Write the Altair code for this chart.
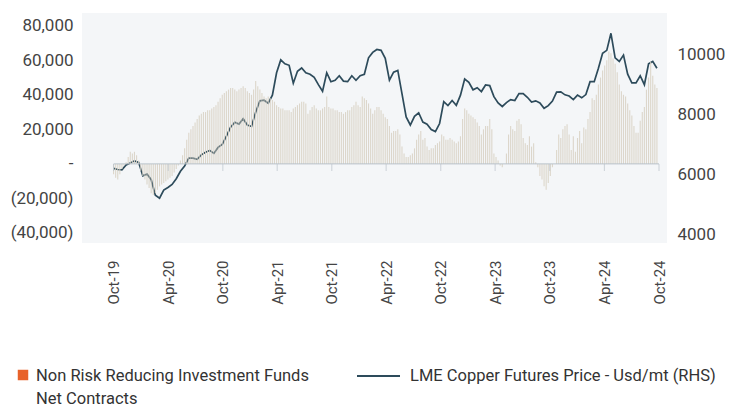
import altair as alt
import pandas as pd

# ---------------- data ----------------
start_date = "2019-10-01"

# Non Risk Reducing Investment Funds net contracts, weekly, in thousands
net_contracts_k = [
    -6, -8, -9, -6, -3, -1, 1, 4, 7, 6,
    7, 5, 2, -4, -7, -9, -12, -14, -17, -18,
    -17, -15, -13, -12, -11, -10, -9, -8, -7, -5,
    -3, -1, 2, 5, 9, 14, 18, 20, 22, 24,
    26, 28, 29, 30, 30, 31, 31, 32, 33, 34,
    36, 38, 40, 41, 42, 43, 44, 44, 43, 42,
    43, 44, 45, 44, 42, 41, 40, 43, 48, 45,
    43, 41, 39, 38, 39, 38, 37, 36, 34, 33,
    32, 32, 31, 31, 31, 30, 32, 33, 34, 35,
    36, 36, 35, 29, 31, 33, 34, 32, 31, 31,
    32, 33, 39, 33, 32, 32, 31, 31, 30, 30,
    29, 30, 31, 31, 33, 34, 36, 34, 33, 39,
    38, 37, 35, 32, 29, 31, 33, 33, 31, 29,
    27, 26, 22, 18, 19, 19, 20, 17, 10, 6,
    4, 4, 5, 6, 9, 14, 17, 19, 14, 15,
    10, 8, 9, 9, 11, 12, 13, 17, 16, 14,
    14, 15, 14, 13, 12, 13, 16, 26, 32, 31,
    29, 28, 27, 26, 24, 22, 17, 20, 22, 22,
    26, 20, 6, 4, 2, -1, -2, 0, 6, 17,
    22, 20, 19, 25, 26, 23, 15, 12, 11, 16,
    10, 12, 1, -2, -7, -9, -13, -15, -11, -7,
    -2, 0, 8, 17, 15, 20, 22, 23, 17, 8,
    16, 7, 15, 19, 12, 21, 20, 26, 30, 38,
    37, 40, 46, 50, 54, 57, 60, 65, 64, 61,
    58, 53, 46, 42, 40, 39, 35, 31, 28, 22,
    18, 18, 25, 30, 33, 43, 50, 59, 51, 46,
    44,
]

# LME copper futures price (USD/mt), every two weeks
copper_price = [
    6200, 6160, 6150, 6310, 6380, 6450, 6400, 5950, 6010, 5820,
    5300, 5200, 5470, 5560, 5660, 5850, 6100, 6280, 6540, 6540,
    6500, 6650, 6740, 6800, 6700, 6900, 7000, 7280, 7580, 7740,
    7680, 7860, 7650, 7600, 8080, 8460, 8480, 8380, 8650, 9400,
    9830, 9700, 9650, 9050, 9450, 9560, 9400, 9350, 9250, 9000,
    8780, 9400, 9100, 9150, 9300, 9120, 9100, 9300, 9150, 9300,
    9350, 9900, 10080, 10180, 10150, 9880, 9150, 9420, 9480, 8700,
    7920, 7650, 7940, 8060, 7750, 7680, 7500, 7430, 7700, 8430,
    8300, 8470, 8310, 8650, 9190, 9080, 8830, 8900, 8770, 8990,
    8970, 8600, 8390, 8270, 8400, 8500, 8470, 8700, 8700, 8580,
    8420, 8460, 8390, 8210, 8300, 8450, 8750, 8760, 8660, 8620,
    8500, 8650, 8560, 8670, 9100, 9100, 9550, 10050, 10150, 10720,
    9900, 9780, 9990, 9350, 9060, 9060, 9300, 9000, 9700, 9780,
    9550,
]

tick_dates = ["2019-10-01", "2020-04-01", "2020-10-01", "2021-04-01",
              "2021-10-01", "2022-04-01", "2022-10-01", "2023-04-01",
              "2023-10-01", "2024-04-01", "2024-10-01"]
left_ticks = [-40000, -20000, 0, 20000, 40000, 60000, 80000]
right_ticks = [4000, 6000, 8000, 10000]
legend_bar_lines = ["Non Risk Reducing Investment Funds", "Net Contracts"]
legend_line_label = "LME Copper Futures Price - Usd/mt (RHS)"

# ---------------- tables ----------------
bar_dates = pd.date_range(start_date, periods=len(net_contracts_k), freq="7D")
bars_df = pd.DataFrame({"date": bar_dates.strftime("%Y-%m-%d"),
                        "net": [v * 1000 for v in net_contracts_k]})
line_dates = pd.date_range(start_date, periods=len(copper_price), freq="14D")
line_df = pd.DataFrame({"date": line_dates.strftime("%Y-%m-%d"),
                        "price": copper_price})
ticks_df = pd.DataFrame({"date": tick_dates, "zero": [0] * len(tick_dates)})
zero_df = pd.DataFrame({"date": [tick_dates[0]], "date2": [tick_dates[-1]], "zero": [0]})
one = pd.DataFrame({"k": [0]})

FONT = "Roboto"
ORANGE = "#e8622a"
LINE = "#2d4b5b"
BAR = "#d9d3c5"
AXISC = "#b9c2ca"
TXT = "#444444"

x_scale = alt.Scale(type="utc",
                    domain=[alt.DateTime(year=2019, month=7, date=4, utc=True),
                            alt.DateTime(year=2024, month=10, date=11, utc=True)])
x_axis = alt.Axis(values=[alt.DateTime(year=int(d[:4]), month=int(d[5:7]), date=1, utc=True)
                          for d in tick_dates],
                  labelExpr="utcFormat(datum.value, '%b-%y')", labelAngle=-90,
                  labelOverlap=False, labelPadding=17, domain=False, ticks=False,
                  grid=False, labelFontSize=15, labelFont=FONT, labelColor=TXT,
                  title=None)
left_scale = alt.Scale(domain=[-45800, 87350], nice=False, zero=False)
right_scale = alt.Scale(domain=[3700, 11400], nice=False, zero=False)

left_axis = alt.Axis(values=left_ticks, orient="left", domain=False, ticks=False,
                     grid=False, labelFontSize=17, labelFont=FONT, labelOverlap=False,
                     labelColor=TXT, labelPadding=9, title=None,
                     labelExpr="datum.value == 0 ? '-' : (datum.value < 0 ? '(' + format(-datum.value, ',') + ')' : format(datum.value, ','))")
right_axis = alt.Axis(values=right_ticks, orient="right", domain=False, ticks=False,
                      grid=False, labelFontSize=17, labelFont=FONT, format="d",
                      labelOverlap=False, labelColor=TXT, labelPadding=10, title=None)

line = alt.Chart(line_df).mark_line(color=LINE, strokeWidth=1.7).encode(
    x=alt.X("date:T", scale=x_scale, axis=x_axis),
    y=alt.Y("price:Q", scale=right_scale, axis=right_axis),
)

bars = alt.Chart(bars_df).mark_bar(size=1.1, color=BAR, opacity=0.9).encode(
    x=alt.X("date:T", scale=x_scale, axis=x_axis),
    y=alt.Y("net:Q", scale=left_scale, axis=left_axis),
)
zero_rule = alt.Chart(zero_df).mark_rule(color=AXISC, strokeWidth=1).encode(
    x=alt.X("date:T", scale=x_scale, axis=x_axis), x2="date2:T",
    y=alt.Y("zero:Q", scale=left_scale, axis=left_axis),
)
small_ticks = alt.Chart(ticks_df).mark_tick(color=AXISC, orient="vertical",
                                            size=7, thickness=1, yOffset=3.5).encode(
    x=alt.X("date:T", scale=x_scale, axis=x_axis),
    y=alt.Y("zero:Q", scale=left_scale, axis=left_axis),
)
left_layer = alt.layer(bars, zero_rule, small_ticks)

# legend (drawn below the plot)
leg_sq = alt.Chart(one).mark_square(size=110, color=ORANGE, opacity=1).encode(
    x=alt.value(-59), y=alt.value(362))
leg_t1 = alt.Chart(one).mark_text(align="left", baseline="middle", font=FONT,
                                   fontSize=16.5, color="#333333").encode(
    x=alt.value(-46), y=alt.value(363), text=alt.value(legend_bar_lines[0]))
leg_t2 = alt.Chart(one).mark_text(align="left", baseline="middle", font=FONT,
                                   fontSize=16.5, color="#333333").encode(
    x=alt.value(-46), y=alt.value(386), text=alt.value(legend_bar_lines[1]))
leg_rule = alt.Chart(one).mark_rule(color=LINE, strokeWidth=2).encode(
    x=alt.value(275), x2=alt.value(318), y=alt.value(363))
leg_t3 = alt.Chart(one).mark_text(align="left", baseline="middle", font=FONT,
                                   fontSize=16.5, color="#333333").encode(
    x=alt.value(328), y=alt.value(363), text=alt.value(legend_line_label))

chart = alt.layer(
    line, left_layer, leg_sq, leg_t1, leg_t2, leg_rule, leg_t3
).resolve_scale(y="independent").properties(
    width=585, height=230,
    autosize=alt.AutoSizeParams(type="none"),
    padding={"left": 74, "top": 5, "right": 64, "bottom": 166},
    background="white",
).configure_view(stroke=None, fill="#f4f6f8").configure_axis(labelOverlap=False)

chart.save("out.html", embed_options={"renderer": "svg", "actions": False})
